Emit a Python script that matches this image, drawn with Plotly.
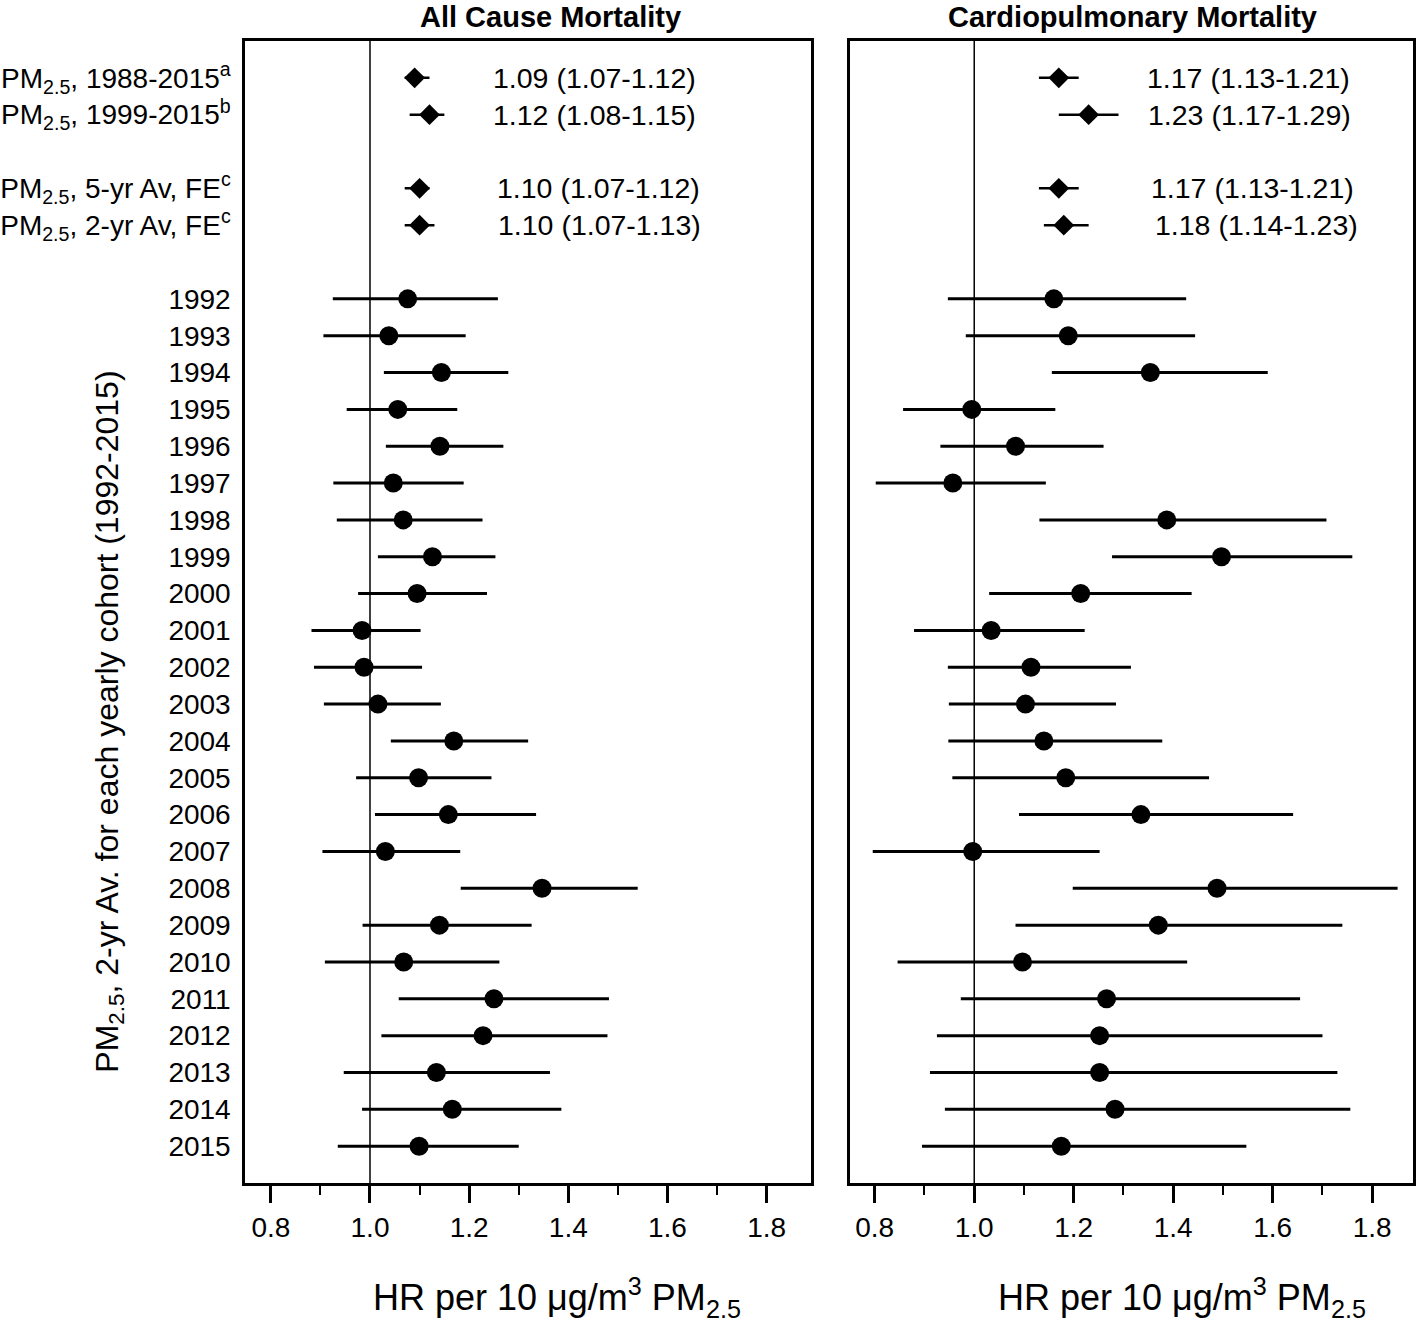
import plotly.graph_objects as go

# ---- data ----
summary_labels = [
    "PM<sub>2.5</sub>, 1988-2015<sup>a</sup>",
    "PM<sub>2.5</sub>, 1999-2015<sup>b</sup>",
    "PM<sub>2.5</sub>, 5-yr Av, FE<sup>c</sup>",
    "PM<sub>2.5</sub>, 2-yr Av, FE<sup>c</sup>",
]
summary_rows = [0, 1, 3, 4]

ac_sum_hr = [1.09, 1.12, 1.10, 1.10]
ac_sum_lo = [1.07, 1.08, 1.07, 1.07]
ac_sum_hi = [1.12, 1.15, 1.12, 1.13]

cp_sum_hr = [1.17, 1.23, 1.17, 1.18]
cp_sum_lo = [1.13, 1.17, 1.13, 1.14]
cp_sum_hi = [1.21, 1.29, 1.21, 1.23]

ac_sum_text = ["1.09 (1.07-1.12)", "1.12 (1.08-1.15)", "1.10 (1.07-1.12)", "1.10 (1.07-1.13)"]
cp_sum_text = ["1.17 (1.13-1.21)", "1.23 (1.17-1.29)", "1.17 (1.13-1.21)", "1.18 (1.14-1.23)"]
ac_text_x = [1.244, 1.244, 1.252, 1.254]
cp_text_x = [1.343, 1.345, 1.351, 1.359]

years = [str(y) for y in range(1992, 2016)]

ac_hr = [1.076, 1.038, 1.144, 1.056, 1.141, 1.047, 1.067, 1.126, 1.095, 0.984, 0.988, 1.016,
         1.169, 1.098, 1.158, 1.031, 1.347, 1.140, 1.068, 1.250, 1.228, 1.134, 1.166, 1.099]
ac_lo = [0.925, 0.906, 1.028, 0.953, 1.032, 0.926, 0.933, 1.016, 0.976, 0.882, 0.887, 0.907,
         1.042, 0.972, 1.010, 0.904, 1.183, 0.985, 0.909, 1.058, 1.023, 0.947, 0.984, 0.935]
ac_hi = [1.258, 1.193, 1.279, 1.176, 1.269, 1.189, 1.227, 1.253, 1.236, 1.102, 1.105, 1.143,
         1.319, 1.245, 1.335, 1.182, 1.540, 1.326, 1.261, 1.482, 1.479, 1.363, 1.386, 1.300]

cp_hr = [1.160, 1.189, 1.354, 0.995, 1.083, 0.957, 1.387, 1.497, 1.214, 1.034, 1.114, 1.103,
         1.140, 1.184, 1.335, 0.997, 1.488, 1.370, 1.097, 1.266, 1.252, 1.252, 1.283, 1.175]
cp_lo = [0.947, 0.983, 1.156, 0.857, 0.932, 0.802, 1.131, 1.277, 1.030, 0.879, 0.947, 0.949,
         0.948, 0.956, 1.090, 0.796, 1.198, 1.083, 0.846, 0.973, 0.925, 0.911, 0.941, 0.895]
cp_hi = [1.426, 1.444, 1.590, 1.163, 1.260, 1.144, 1.708, 1.760, 1.437, 1.222, 1.315, 1.285,
         1.378, 1.472, 1.641, 1.252, 1.851, 1.740, 1.428, 1.655, 1.700, 1.730, 1.756, 1.547]

x_ticks = [0.8, 1.0, 1.2, 1.4, 1.6, 1.8]

panel_titles = ["All Cause Mortality", "Cardiopulmonary Mortality"]
x_title = "HR per 10 \u03bcg/m<sup>3</sup> PM<sub>2.5</sub>"
y_title = "PM<sub>2.5</sub>, 2-yr Av. for each yearly cohort (1992-2015)"

# ---- layout helpers ----
W, H = 1419, 1327
FONT = "Liberation Sans, Arial, sans-serif"
year_rows = [6 + i for i in range(len(years))]

fig = go.Figure()


def add_panel(xaxis, yaxis, hr, lo, hi, s_hr, s_lo, s_hi):
    fig.add_trace(go.Scatter(
        x=hr, y=year_rows, xaxis=xaxis, yaxis=yaxis, mode="markers",
        marker=dict(symbol="circle", size=19, color="black"),
        error_x=dict(type="data", symmetric=False,
                     array=[h - m for h, m in zip(hi, hr)],
                     arrayminus=[m - l for m, l in zip(hr, lo)],
                     thickness=3, width=0, color="black"),
        showlegend=False, hoverinfo="x+y"))
    fig.add_trace(go.Scatter(
        x=s_hr, y=summary_rows, xaxis=xaxis, yaxis=yaxis, mode="markers",
        marker=dict(symbol="diamond", size=16, color="black"),
        error_x=dict(type="data", symmetric=False,
                     array=[h - m for h, m in zip(s_hi, s_hr)],
                     arrayminus=[m - l for m, l in zip(s_hr, s_lo)],
                     thickness=2.5, width=0, color="black"),
        showlegend=False, hoverinfo="x+y"))


add_panel("x", "y", ac_hr, ac_lo, ac_hi, ac_sum_hr, ac_sum_lo, ac_sum_hi)
add_panel("x2", "y2", cp_hr, cp_lo, cp_hi, cp_sum_hr, cp_sum_lo, cp_sum_hi)

ydom = [1 - 1183 / H, 1 - 41 / H]
xdom1 = [242 / W, 809 / W]
xdom2 = [848 / W, 1413 / W]

xaxis_common = dict(
    range=[0.7485, 1.889], tickvals=x_ticks, ticktext=[f"{v:.1f}" for v in x_ticks],
    ticks="outside", ticklen=17, tickwidth=2.5, tickcolor="black",
    minor=dict(dtick=0.1, tick0=0.8, ticks="outside", ticklen=9, tickwidth=2, tickcolor="black"),
    showline=True, linewidth=3, linecolor="black", mirror=True,
    showgrid=False, zeroline=False,
    tickfont=dict(family=FONT, size=28, color="black"),
)
yaxis_common = dict(
    range=[30, -1], showline=True, linewidth=3, linecolor="black", mirror=True,
    showgrid=False, zeroline=False, ticks="",
)

fig.update_layout(
    width=W, height=H, margin=dict(l=0, r=0, t=0, b=0),
    plot_bgcolor="white", paper_bgcolor="white",
    font=dict(family=FONT, color="black"),
    xaxis=dict(domain=xdom1, anchor="y", **xaxis_common),
    xaxis2=dict(domain=xdom2, anchor="y2", **dict(xaxis_common, range=[0.7495, 1.882])),
    yaxis=dict(domain=ydom, anchor="x",
               tickvals=summary_rows + year_rows, ticktext=summary_labels + years,
               tickfont=dict(family=FONT, size=28, color="black"),
               ticklabelstandoff=6, **yaxis_common),
    yaxis2=dict(domain=ydom, anchor="x2", showticklabels=False, **yaxis_common),
    showlegend=False,
)

# reference lines at HR = 1.0
for xr in ["x", "x2"]:
    fig.add_shape(type="line", xref=xr, yref=xr.replace("x", "y") + " domain",
                  x0=1.0, x1=1.0, y0=0, y1=1, line=dict(color="black", width=1.5),
                  layer="below")

ann = []
for t, xv, yv in zip(ac_sum_text, ac_text_x, summary_rows):
    ann.append(dict(text=t, x=xv, y=yv, xref="x", yref="y", xanchor="left", yanchor="middle",
                    showarrow=False, font=dict(family=FONT, size=28.5, color="black")))
for t, xv, yv in zip(cp_sum_text, cp_text_x, summary_rows):
    ann.append(dict(text=t, x=xv, y=yv, xref="x2", yref="y2", xanchor="left", yanchor="middle",
                    showarrow=False, font=dict(family=FONT, size=28.5, color="black")))

# panel titles
for title, cx in zip(panel_titles, [548, 1132]):
    ann.append(dict(text="<b>" + title + "</b>", x=cx / W, y=1.0, xref="paper", yref="paper",
                    xanchor="center", yanchor="top", showarrow=False, borderpad=0,
                    font=dict(family=FONT, size=29, color="black")))
# x titles
for cx in [555, 1181]:
    ann.append(dict(text=x_title, x=cx / W, y=1 - 1297 / H, xref="paper", yref="paper",
                    xanchor="center", yanchor="middle", showarrow=False,
                    font=dict(family=FONT, size=36, color="black")))
# y title
ann.append(dict(text=y_title, x=105 / W, y=1 - 722 / H, xref="paper", yref="paper",
                xanchor="center", yanchor="middle", textangle=-90, showarrow=False,
                font=dict(family=FONT, size=32, color="black")))

fig.update_layout(annotations=ann)
fig.write_html("out.html", config={"displayModeBar": False},
               post_script="document.body.style.margin='0px';")
